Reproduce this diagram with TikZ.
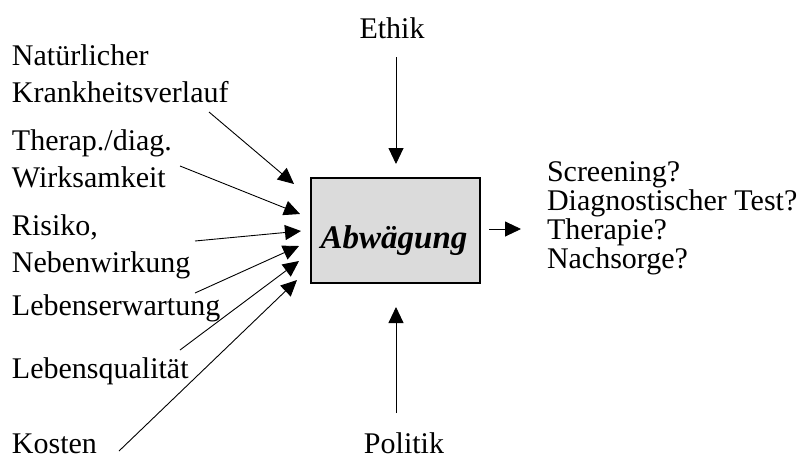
\documentclass[tikz,border=0pt]{standalone}
\usepackage{fontspec}
\setmainfont{Liberation Serif}
\usetikzlibrary{arrows.meta}
\begin{document}
\begin{tikzpicture}[x=1pt,y=-1pt,
  lbl/.style={inner sep=0pt,outer sep=0pt,
    font=\fontsize{30}{37}\selectfont},
  factor/.style={lbl,align=left,anchor=base west},
  single/.style={lbl,anchor=base west},
  result/.style={inner sep=0pt,outer sep=0pt,align=left,anchor=base west,
    font=\fontsize{30}{28.7}\selectfont},
  centerbox/.style={draw=black,line width=1.1pt,fill=black!14,
    minimum width=169pt,minimum height=105pt,inner sep=0pt},
  flow/.style={line width=0.9pt,-{Triangle[length=16pt,width=15pt]}}]
\useasboundingbox (0,0) rectangle (803,461);

% central box
\node[centerbox] (box) at (395.5,230.5) {};
\node[inner sep=0pt,anchor=base,font=\fontsize{33}{33}\selectfont\bfseries\itshape]
  (abw) at (394,248) {Abwägung};

% influencing factors on the left (base = baseline of the last line)
\node[factor] (nat)  at (12,102) {Natürlicher\\Krankheitsverlauf};
\node[factor] (wirk) at (12,187) {Therap./diag.\\Wirksamkeit};
\node[factor] (risk) at (12,272) {Risiko,\\Nebenwirkung};
\node[single] (erw)  at (12,315) {Lebenserwartung};
\node[single] (qual) at (12,378) {Lebensqualität};
\node[single] (kost) at (12,453) {Kosten};

% frame conditions above and below
\node[lbl,anchor=base] (ethik) at (392,38) {Ethik};
\node[lbl,anchor=base] (pol) at (404,453) {Politik};

% questions on the right
\node[result] (res) at (547,268) {Screening?\\Diagnostischer Test?\\Therapie?\\Nachsorge?};

% arrow end points
\coordinate (s1) at (209,112); \coordinate (t1) at (294,184);
\coordinate (s2) at (180,166); \coordinate (t2) at (300,214);
\coordinate (s3) at (195,241); \coordinate (t3) at (301,231);
\coordinate (s4) at (195,293); \coordinate (t4) at (299,246);
\coordinate (s5) at (180,350); \coordinate (t5) at (299,261);
\coordinate (s6) at (119,451); \coordinate (t6) at (297,280);
\coordinate (eS) at (396,57);  \coordinate (eT) at (396,164);
\coordinate (pS) at (396,413); \coordinate (pT) at (396,307);
\coordinate (rS) at (489,229); \coordinate (rT) at (521,229);

\draw[flow] (s1) -- (t1);
\draw[flow] (s2) -- (t2);
\draw[flow] (s3) -- (t3);
\draw[flow] (s4) -- (t4);
\draw[flow] (s5) -- (t5);
\draw[flow] (s6) -- (t6);
\draw[flow] (eS) -- (eT);
\draw[flow] (pS) -- (pT);
\draw[flow] (rS) -- (rT);
\end{tikzpicture}
\end{document}
